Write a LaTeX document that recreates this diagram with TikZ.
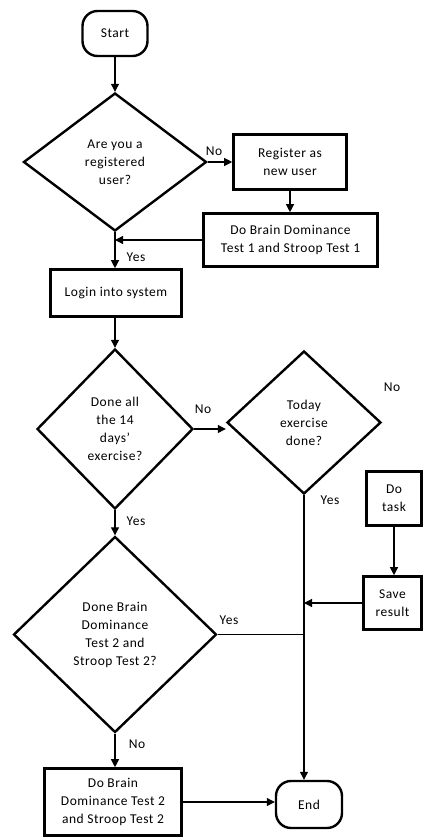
\documentclass[tikz,border=0pt]{standalone}
\usepackage{fontspec}
\setmainfont{Carlito}[LetterSpace=4]
\usetikzlibrary{arrows.meta,shapes.geometric}
\begin{document}
\begin{tikzpicture}[x=1pt,y=-1pt,
  every node/.style={font=\fontsize{13.5}{18}\selectfont, align=center, inner sep=0pt},
  procbox/.style={draw, rectangle, line width=2.6pt},
  decision/.style={draw, diamond, line width=2.4pt, inner sep=0pt},
  terminal/.style={draw, rectangle, rounded corners=15pt, line width=2.4pt},
  conn/.style={line width=1.2pt, -{Triangle[length=8pt,width=8pt]}},
  plainline/.style={line width=1.2pt},
  lbl/.style={}
]
\useasboundingbox (0,0) rectangle (424,838);

\node[terminal, minimum width=65pt, minimum height=45pt] (start) at (115,33.5) {Start};
\node[decision, minimum width=183pt, minimum height=138pt] (d1) at (115,162) {Are you a\\registered\\user?};
\node[procbox, minimum width=113pt, minimum height=55pt] (reg) at (290,162) {Register as\\new user};
\node[procbox, minimum width=174pt, minimum height=53pt] (db1) at (290.5,240) {Do Brain Dominance\\Test 1 and Stroop Test 1};
\node[procbox, minimum width=131pt, minimum height=47pt] (login) at (116,293) {Login into system};
\node[decision, minimum width=156pt, minimum height=160pt] (d2) at (115,429) {Done all\\the 14\\days’\\exercise?};
\node[decision, minimum width=154pt, minimum height=143pt] (d3) at (304,422.5) {Today\\exercise\\done?};
\node[procbox, minimum width=55pt, minimum height=54pt] (task) at (394,498.5) {Do\\task};
\node[procbox, minimum width=58pt, minimum height=53pt] (save) at (392.5,603) {Save\\result};
\node[decision, minimum width=203pt, minimum height=196pt] (d4) at (115,634.5) {Done Brain\\Dominance\\Test 2 and\\Stroop Test 2?};
\node[procbox, minimum width=137pt, minimum height=67pt] (db2) at (113,802) {Do Brain\\Dominance Test 2\\and Stroop Test 2};
\node[terminal, minimum width=66pt, minimum height=47pt] (end) at (309,804.5) {End};

% labels
\node[lbl] (lno1) at (214,151) {No};
\node[lbl] (lyes1) at (136,257) {Yes};
\node[lbl] (lno2) at (203,409) {No};
\node[lbl] (lno3) at (392,387) {No};
\node[lbl] (lyes3) at (330,500) {Yes};
\node[lbl] (lyes2) at (136,521) {Yes};
\node[lbl] (lyes4) at (229,620) {Yes};
\node[lbl] (lno4) at (137,744) {No};

% connectors
\draw[conn] (start.south) -- (d1.north);
\draw[conn] (d1.east) -- (reg.west);
\draw[conn] (reg.south) -- (reg.south |- db1.north);
\draw[conn] (db1.west) -- (db1.west -| d1.south);
\draw[conn] (d1.south) -- (d1.south |- login.north);
\draw[conn] (d1.south |- login.south) -- (d2.north);
\draw[conn] (d2.east) -- (d2.east -| d3.west);
\draw[conn] (d2.south) -- (d4.north);
\draw[conn] (d3.south) -- (d3.south |- end.north);
\draw[conn] (task.south) -- (task.south |- save.north);
\draw[conn] (save.west) -- (save.west -| d3.south);
\draw[plainline] (d4.east) -- (d4.east -| d3.south);
\draw[conn] (d4.south) -- (d4.south |- db2.north);
\draw[conn] (db2.east) -- (db2.east -| end.west);
\end{tikzpicture}
\end{document}
